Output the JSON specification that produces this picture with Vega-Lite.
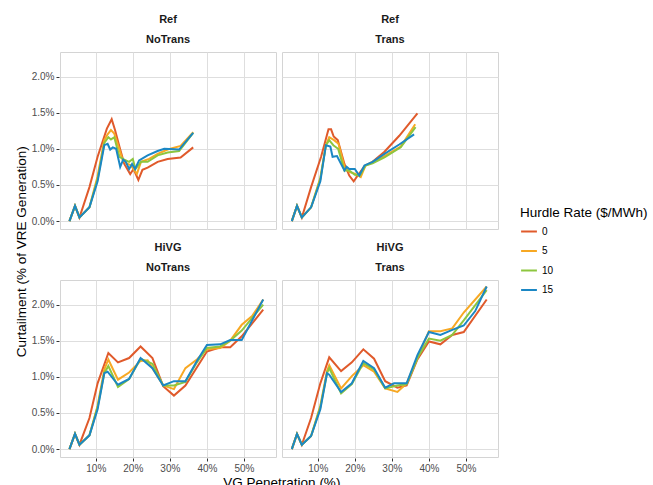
{
"$schema": "https://vega.github.io/schema/vega-lite/v6.json",
"padding": {"left": 14, "top": 14, "right": 0, "bottom": 0},
"title": {"text": "Curtailment (% of VRE Generation)", "orient": "left", "anchor": "middle", "fontSize": 13.5, "fontWeight": "normal", "color": "#000000", "font": "Liberation Sans", "offset": 3},
"config": {
  "font": "Liberation Sans",
  "view": {"stroke": "#d4d4d4", "strokeWidth": 1},
  "axis": {"grid": true, "gridColor": "#dedede", "gridWidth": 1, "domain": false, "tickColor": "#333333", "tickSize": 3, "labelColor": "#4d4d4d", "labelFontSize": 10, "labelFont": "Liberation Sans", "titleFont": "Liberation Sans", "titleFontSize": 13.5, "titleFontWeight": "normal", "titleColor": "#000000"},
  "header": {"labelFont": "Liberation Sans", "labelFontWeight": "bold", "labelFontSize": 11, "labelColor": "#1a1a1a", "labelLineHeight": 20, "labelPadding": 6},
  "legend": {"titleFont": "Liberation Sans", "titleFontSize": 13.5, "titleFontWeight": "normal", "titleColor": "#000000", "labelFont": "Liberation Sans", "labelFontSize": 10, "labelColor": "#000000"},
  "title": {"font": "Liberation Sans", "fontWeight": "normal", "fontSize": 13.5, "color": "#000000"}
},
"data": {"values": [
{"p":"Ref|NoTrans","r":0,"x":2.9,"y":0},{"p":"Ref|NoTrans","r":0,"x":4.4,"y":0.21},{"p":"Ref|NoTrans","r":0,"x":5.6,"y":0.05},{"p":"Ref|NoTrans","r":0,"x":8.3,"y":0.47},{"p":"Ref|NoTrans","r":0,"x":10.5,"y":0.89},{"p":"Ref|NoTrans","r":0,"x":13.0,"y":1.28},{"p":"Ref|NoTrans","r":0,"x":14.3,"y":1.41},{"p":"Ref|NoTrans","r":0,"x":15.2,"y":1.26},{"p":"Ref|NoTrans","r":0,"x":16.4,"y":1.03},{"p":"Ref|NoTrans","r":0,"x":17.7,"y":0.79},{"p":"Ref|NoTrans","r":0,"x":19.3,"y":0.65},{"p":"Ref|NoTrans","r":0,"x":20.2,"y":0.72},{"p":"Ref|NoTrans","r":0,"x":21.5,"y":0.57},{"p":"Ref|NoTrans","r":0,"x":22.6,"y":0.71},{"p":"Ref|NoTrans","r":0,"x":24.0,"y":0.74},{"p":"Ref|NoTrans","r":0,"x":26.7,"y":0.82},{"p":"Ref|NoTrans","r":0,"x":29.4,"y":0.86},{"p":"Ref|NoTrans","r":0,"x":32.9,"y":0.88},{"p":"Ref|NoTrans","r":0,"x":36.3,"y":1.02},
{"p":"Ref|NoTrans","r":5,"x":2.9,"y":0},{"p":"Ref|NoTrans","r":5,"x":4.4,"y":0.21},{"p":"Ref|NoTrans","r":5,"x":5.6,"y":0.05},{"p":"Ref|NoTrans","r":5,"x":8.3,"y":0.19},{"p":"Ref|NoTrans","r":5,"x":10.5,"y":0.62},{"p":"Ref|NoTrans","r":5,"x":12.3,"y":1.12},{"p":"Ref|NoTrans","r":5,"x":13.2,"y":1.2},{"p":"Ref|NoTrans","r":5,"x":14.1,"y":1.26},{"p":"Ref|NoTrans","r":5,"x":15.0,"y":1.21},{"p":"Ref|NoTrans","r":5,"x":15.9,"y":1.07},{"p":"Ref|NoTrans","r":5,"x":17.3,"y":0.84},{"p":"Ref|NoTrans","r":5,"x":18.6,"y":0.79},{"p":"Ref|NoTrans","r":5,"x":19.5,"y":0.77},{"p":"Ref|NoTrans","r":5,"x":21.1,"y":0.65},{"p":"Ref|NoTrans","r":5,"x":22.2,"y":0.82},{"p":"Ref|NoTrans","r":5,"x":24.4,"y":0.86},{"p":"Ref|NoTrans","r":5,"x":26.7,"y":0.93},{"p":"Ref|NoTrans","r":5,"x":29.4,"y":0.99},{"p":"Ref|NoTrans","r":5,"x":32.9,"y":1.04},{"p":"Ref|NoTrans","r":5,"x":36.3,"y":1.23},
{"p":"Ref|NoTrans","r":10,"x":2.9,"y":0},{"p":"Ref|NoTrans","r":10,"x":4.4,"y":0.21},{"p":"Ref|NoTrans","r":10,"x":5.6,"y":0.05},{"p":"Ref|NoTrans","r":10,"x":8.3,"y":0.19},{"p":"Ref|NoTrans","r":10,"x":10.5,"y":0.58},{"p":"Ref|NoTrans","r":10,"x":12.3,"y":1.08},{"p":"Ref|NoTrans","r":10,"x":13.4,"y":1.16},{"p":"Ref|NoTrans","r":10,"x":14.1,"y":1.13},{"p":"Ref|NoTrans","r":10,"x":15.0,"y":1.16},{"p":"Ref|NoTrans","r":10,"x":16.4,"y":0.89},{"p":"Ref|NoTrans","r":10,"x":17.7,"y":0.85},{"p":"Ref|NoTrans","r":10,"x":19.0,"y":0.82},{"p":"Ref|NoTrans","r":10,"x":20.0,"y":0.86},{"p":"Ref|NoTrans","r":10,"x":20.7,"y":0.72},{"p":"Ref|NoTrans","r":10,"x":22.2,"y":0.82},{"p":"Ref|NoTrans","r":10,"x":24.0,"y":0.82},{"p":"Ref|NoTrans","r":10,"x":26.7,"y":0.91},{"p":"Ref|NoTrans","r":10,"x":29.4,"y":0.95},{"p":"Ref|NoTrans","r":10,"x":32.5,"y":0.97},{"p":"Ref|NoTrans","r":10,"x":36.3,"y":1.22},
{"p":"Ref|NoTrans","r":15,"x":2.9,"y":0},{"p":"Ref|NoTrans","r":15,"x":4.4,"y":0.21},{"p":"Ref|NoTrans","r":15,"x":5.6,"y":0.05},{"p":"Ref|NoTrans","r":15,"x":8.3,"y":0.19},{"p":"Ref|NoTrans","r":15,"x":10.5,"y":0.55},{"p":"Ref|NoTrans","r":15,"x":12.3,"y":1.05},{"p":"Ref|NoTrans","r":15,"x":13.2,"y":1.07},{"p":"Ref|NoTrans","r":15,"x":13.9,"y":0.99},{"p":"Ref|NoTrans","r":15,"x":14.6,"y":1.02},{"p":"Ref|NoTrans","r":15,"x":15.5,"y":1.0},{"p":"Ref|NoTrans","r":15,"x":16.6,"y":0.75},{"p":"Ref|NoTrans","r":15,"x":17.4,"y":0.85},{"p":"Ref|NoTrans","r":15,"x":18.1,"y":0.82},{"p":"Ref|NoTrans","r":15,"x":19.0,"y":0.72},{"p":"Ref|NoTrans","r":15,"x":19.8,"y":0.79},{"p":"Ref|NoTrans","r":15,"x":20.6,"y":0.72},{"p":"Ref|NoTrans","r":15,"x":21.7,"y":0.84},{"p":"Ref|NoTrans","r":15,"x":24.0,"y":0.91},{"p":"Ref|NoTrans","r":15,"x":26.7,"y":0.97},{"p":"Ref|NoTrans","r":15,"x":28.5,"y":1.0},{"p":"Ref|NoTrans","r":15,"x":32.5,"y":0.99},{"p":"Ref|NoTrans","r":15,"x":36.3,"y":1.22},
{"p":"Ref|Trans","r":0,"x":3.0,"y":0},{"p":"Ref|Trans","r":0,"x":4.4,"y":0.21},{"p":"Ref|Trans","r":0,"x":5.7,"y":0.05},{"p":"Ref|Trans","r":0,"x":8.2,"y":0.47},{"p":"Ref|Trans","r":0,"x":10.9,"y":0.89},{"p":"Ref|Trans","r":0,"x":12.9,"y":1.27},{"p":"Ref|Trans","r":0,"x":13.6,"y":1.27},{"p":"Ref|Trans","r":0,"x":14.3,"y":1.17},{"p":"Ref|Trans","r":0,"x":15.4,"y":1.12},{"p":"Ref|Trans","r":0,"x":17.2,"y":0.79},{"p":"Ref|Trans","r":0,"x":18.5,"y":0.63},{"p":"Ref|Trans","r":0,"x":19.7,"y":0.55},{"p":"Ref|Trans","r":0,"x":20.8,"y":0.63},{"p":"Ref|Trans","r":0,"x":22.6,"y":0.76},{"p":"Ref|Trans","r":0,"x":24.8,"y":0.82},{"p":"Ref|Trans","r":0,"x":28.0,"y":0.96},{"p":"Ref|Trans","r":0,"x":32.0,"y":1.18},{"p":"Ref|Trans","r":0,"x":36.9,"y":1.49},
{"p":"Ref|Trans","r":5,"x":3.0,"y":0},{"p":"Ref|Trans","r":5,"x":4.4,"y":0.21},{"p":"Ref|Trans","r":5,"x":5.7,"y":0.05},{"p":"Ref|Trans","r":5,"x":8.2,"y":0.19},{"p":"Ref|Trans","r":5,"x":10.7,"y":0.6},{"p":"Ref|Trans","r":5,"x":12.2,"y":1.05},{"p":"Ref|Trans","r":5,"x":13.1,"y":1.16},{"p":"Ref|Trans","r":5,"x":14.4,"y":1.12},{"p":"Ref|Trans","r":5,"x":15.6,"y":1.07},{"p":"Ref|Trans","r":5,"x":17.2,"y":0.75},{"p":"Ref|Trans","r":5,"x":18.5,"y":0.68},{"p":"Ref|Trans","r":5,"x":20.3,"y":0.65},{"p":"Ref|Trans","r":5,"x":21.6,"y":0.61},{"p":"Ref|Trans","r":5,"x":22.9,"y":0.77},{"p":"Ref|Trans","r":5,"x":24.8,"y":0.82},{"p":"Ref|Trans","r":5,"x":28.0,"y":0.9},{"p":"Ref|Trans","r":5,"x":32.4,"y":1.03},{"p":"Ref|Trans","r":5,"x":36.3,"y":1.34},
{"p":"Ref|Trans","r":10,"x":3.0,"y":0},{"p":"Ref|Trans","r":10,"x":4.4,"y":0.21},{"p":"Ref|Trans","r":10,"x":5.7,"y":0.05},{"p":"Ref|Trans","r":10,"x":8.2,"y":0.19},{"p":"Ref|Trans","r":10,"x":10.7,"y":0.58},{"p":"Ref|Trans","r":10,"x":12.2,"y":1.05},{"p":"Ref|Trans","r":10,"x":13.1,"y":1.12},{"p":"Ref|Trans","r":10,"x":14.2,"y":1.05},{"p":"Ref|Trans","r":10,"x":15.5,"y":1.0},{"p":"Ref|Trans","r":10,"x":17.2,"y":0.7},{"p":"Ref|Trans","r":10,"x":18.5,"y":0.7},{"p":"Ref|Trans","r":10,"x":20.0,"y":0.64},{"p":"Ref|Trans","r":10,"x":21.4,"y":0.63},{"p":"Ref|Trans","r":10,"x":22.9,"y":0.77},{"p":"Ref|Trans","r":10,"x":24.8,"y":0.8},{"p":"Ref|Trans","r":10,"x":28.0,"y":0.88},{"p":"Ref|Trans","r":10,"x":32.4,"y":1.02},{"p":"Ref|Trans","r":10,"x":36.4,"y":1.3},
{"p":"Ref|Trans","r":15,"x":3.0,"y":0},{"p":"Ref|Trans","r":15,"x":4.4,"y":0.21},{"p":"Ref|Trans","r":15,"x":5.7,"y":0.05},{"p":"Ref|Trans","r":15,"x":8.2,"y":0.19},{"p":"Ref|Trans","r":15,"x":10.7,"y":0.55},{"p":"Ref|Trans","r":15,"x":12.2,"y":1.05},{"p":"Ref|Trans","r":15,"x":13.4,"y":1.03},{"p":"Ref|Trans","r":15,"x":14.0,"y":0.89},{"p":"Ref|Trans","r":15,"x":15.2,"y":0.9},{"p":"Ref|Trans","r":15,"x":17.2,"y":0.7},{"p":"Ref|Trans","r":15,"x":17.8,"y":0.75},{"p":"Ref|Trans","r":15,"x":18.5,"y":0.72},{"p":"Ref|Trans","r":15,"x":20.0,"y":0.72},{"p":"Ref|Trans","r":15,"x":21.2,"y":0.63},{"p":"Ref|Trans","r":15,"x":22.6,"y":0.77},{"p":"Ref|Trans","r":15,"x":24.8,"y":0.82},{"p":"Ref|Trans","r":15,"x":28.0,"y":0.93},{"p":"Ref|Trans","r":15,"x":32.0,"y":1.06},{"p":"Ref|Trans","r":15,"x":36.0,"y":1.2},
{"p":"HiVG|NoTrans","r":0,"x":2.9,"y":0},{"p":"HiVG|NoTrans","r":0,"x":4.4,"y":0.21},{"p":"HiVG|NoTrans","r":0,"x":5.6,"y":0.06},{"p":"HiVG|NoTrans","r":0,"x":8.3,"y":0.43},{"p":"HiVG|NoTrans","r":0,"x":10.5,"y":0.91},{"p":"HiVG|NoTrans","r":0,"x":13.4,"y":1.33},{"p":"HiVG|NoTrans","r":0,"x":16.0,"y":1.2},{"p":"HiVG|NoTrans","r":0,"x":19.0,"y":1.26},{"p":"HiVG|NoTrans","r":0,"x":22.1,"y":1.42},{"p":"HiVG|NoTrans","r":0,"x":25.3,"y":1.26},{"p":"HiVG|NoTrans","r":0,"x":28.2,"y":0.87},{"p":"HiVG|NoTrans","r":0,"x":31.1,"y":0.74},{"p":"HiVG|NoTrans","r":0,"x":34.2,"y":0.88},{"p":"HiVG|NoTrans","r":0,"x":40.0,"y":1.35},{"p":"HiVG|NoTrans","r":0,"x":43.6,"y":1.41},{"p":"HiVG|NoTrans","r":0,"x":46.3,"y":1.41},{"p":"HiVG|NoTrans","r":0,"x":49.4,"y":1.56},{"p":"HiVG|NoTrans","r":0,"x":55.2,"y":1.93},
{"p":"HiVG|NoTrans","r":5,"x":2.9,"y":0},{"p":"HiVG|NoTrans","r":5,"x":4.4,"y":0.21},{"p":"HiVG|NoTrans","r":5,"x":5.6,"y":0.06},{"p":"HiVG|NoTrans","r":5,"x":8.3,"y":0.19},{"p":"HiVG|NoTrans","r":5,"x":10.5,"y":0.6},{"p":"HiVG|NoTrans","r":5,"x":12.3,"y":1.1},{"p":"HiVG|NoTrans","r":5,"x":13.4,"y":1.24},{"p":"HiVG|NoTrans","r":5,"x":16.0,"y":0.96},{"p":"HiVG|NoTrans","r":5,"x":19.0,"y":1.06},{"p":"HiVG|NoTrans","r":5,"x":22.1,"y":1.22},{"p":"HiVG|NoTrans","r":5,"x":24.0,"y":1.23},{"p":"HiVG|NoTrans","r":5,"x":25.3,"y":1.12},{"p":"HiVG|NoTrans","r":5,"x":28.2,"y":0.88},{"p":"HiVG|NoTrans","r":5,"x":31.1,"y":0.83},{"p":"HiVG|NoTrans","r":5,"x":34.2,"y":1.12},{"p":"HiVG|NoTrans","r":5,"x":37.3,"y":1.24},{"p":"HiVG|NoTrans","r":5,"x":40.0,"y":1.38},{"p":"HiVG|NoTrans","r":5,"x":43.6,"y":1.4},{"p":"HiVG|NoTrans","r":5,"x":46.3,"y":1.5},{"p":"HiVG|NoTrans","r":5,"x":49.4,"y":1.72},{"p":"HiVG|NoTrans","r":5,"x":52.2,"y":1.84},{"p":"HiVG|NoTrans","r":5,"x":55.2,"y":2.07},
{"p":"HiVG|NoTrans","r":10,"x":2.9,"y":0},{"p":"HiVG|NoTrans","r":10,"x":4.4,"y":0.21},{"p":"HiVG|NoTrans","r":10,"x":5.6,"y":0.06},{"p":"HiVG|NoTrans","r":10,"x":8.3,"y":0.19},{"p":"HiVG|NoTrans","r":10,"x":10.5,"y":0.58},{"p":"HiVG|NoTrans","r":10,"x":12.3,"y":1.05},{"p":"HiVG|NoTrans","r":10,"x":13.4,"y":1.15},{"p":"HiVG|NoTrans","r":10,"x":16.0,"y":0.86},{"p":"HiVG|NoTrans","r":10,"x":19.0,"y":0.97},{"p":"HiVG|NoTrans","r":10,"x":22.1,"y":1.25},{"p":"HiVG|NoTrans","r":10,"x":25.3,"y":1.18},{"p":"HiVG|NoTrans","r":10,"x":28.2,"y":0.88},{"p":"HiVG|NoTrans","r":10,"x":31.1,"y":0.88},{"p":"HiVG|NoTrans","r":10,"x":34.2,"y":0.93},{"p":"HiVG|NoTrans","r":10,"x":37.3,"y":1.2},{"p":"HiVG|NoTrans","r":10,"x":40.0,"y":1.4},{"p":"HiVG|NoTrans","r":10,"x":43.6,"y":1.42},{"p":"HiVG|NoTrans","r":10,"x":46.3,"y":1.5},{"p":"HiVG|NoTrans","r":10,"x":49.4,"y":1.64},{"p":"HiVG|NoTrans","r":10,"x":55.2,"y":2.0},
{"p":"HiVG|NoTrans","r":15,"x":2.9,"y":0},{"p":"HiVG|NoTrans","r":15,"x":4.4,"y":0.21},{"p":"HiVG|NoTrans","r":15,"x":5.6,"y":0.06},{"p":"HiVG|NoTrans","r":15,"x":8.3,"y":0.19},{"p":"HiVG|NoTrans","r":15,"x":10.5,"y":0.55},{"p":"HiVG|NoTrans","r":15,"x":12.3,"y":1.05},{"p":"HiVG|NoTrans","r":15,"x":13.2,"y":1.07},{"p":"HiVG|NoTrans","r":15,"x":16.0,"y":0.89},{"p":"HiVG|NoTrans","r":15,"x":19.0,"y":0.97},{"p":"HiVG|NoTrans","r":15,"x":22.1,"y":1.26},{"p":"HiVG|NoTrans","r":15,"x":25.3,"y":1.12},{"p":"HiVG|NoTrans","r":15,"x":28.2,"y":0.88},{"p":"HiVG|NoTrans","r":15,"x":31.1,"y":0.94},{"p":"HiVG|NoTrans","r":15,"x":34.2,"y":0.94},{"p":"HiVG|NoTrans","r":15,"x":37.3,"y":1.22},{"p":"HiVG|NoTrans","r":15,"x":40.0,"y":1.44},{"p":"HiVG|NoTrans","r":15,"x":43.6,"y":1.45},{"p":"HiVG|NoTrans","r":15,"x":46.3,"y":1.51},{"p":"HiVG|NoTrans","r":15,"x":49.4,"y":1.51},{"p":"HiVG|NoTrans","r":15,"x":55.2,"y":2.07},
{"p":"HiVG|Trans","r":0,"x":3.0,"y":0},{"p":"HiVG|Trans","r":0,"x":4.4,"y":0.21},{"p":"HiVG|Trans","r":0,"x":5.7,"y":0.06},{"p":"HiVG|Trans","r":0,"x":8.2,"y":0.43},{"p":"HiVG|Trans","r":0,"x":10.7,"y":0.91},{"p":"HiVG|Trans","r":0,"x":13.1,"y":1.27},{"p":"HiVG|Trans","r":0,"x":16.3,"y":1.08},{"p":"HiVG|Trans","r":0,"x":19.2,"y":1.2},{"p":"HiVG|Trans","r":0,"x":22.3,"y":1.38},{"p":"HiVG|Trans","r":0,"x":25.2,"y":1.25},{"p":"HiVG|Trans","r":0,"x":28.2,"y":0.94},{"p":"HiVG|Trans","r":0,"x":31.5,"y":0.85},{"p":"HiVG|Trans","r":0,"x":34.0,"y":0.88},{"p":"HiVG|Trans","r":0,"x":36.9,"y":1.24},{"p":"HiVG|Trans","r":0,"x":40.0,"y":1.49},{"p":"HiVG|Trans","r":0,"x":43.1,"y":1.45},{"p":"HiVG|Trans","r":0,"x":46.3,"y":1.58},{"p":"HiVG|Trans","r":0,"x":49.4,"y":1.62},{"p":"HiVG|Trans","r":0,"x":55.6,"y":2.07},
{"p":"HiVG|Trans","r":5,"x":3.0,"y":0},{"p":"HiVG|Trans","r":5,"x":4.4,"y":0.21},{"p":"HiVG|Trans","r":5,"x":5.7,"y":0.06},{"p":"HiVG|Trans","r":5,"x":8.2,"y":0.18},{"p":"HiVG|Trans","r":5,"x":10.7,"y":0.6},{"p":"HiVG|Trans","r":5,"x":12.5,"y":1.08},{"p":"HiVG|Trans","r":5,"x":13.1,"y":1.16},{"p":"HiVG|Trans","r":5,"x":16.3,"y":0.84},{"p":"HiVG|Trans","r":5,"x":19.2,"y":1.01},{"p":"HiVG|Trans","r":5,"x":22.3,"y":1.16},{"p":"HiVG|Trans","r":5,"x":25.2,"y":1.07},{"p":"HiVG|Trans","r":5,"x":28.2,"y":0.84},{"p":"HiVG|Trans","r":5,"x":31.5,"y":0.79},{"p":"HiVG|Trans","r":5,"x":34.0,"y":0.91},{"p":"HiVG|Trans","r":5,"x":36.9,"y":1.26},{"p":"HiVG|Trans","r":5,"x":40.0,"y":1.63},{"p":"HiVG|Trans","r":5,"x":43.1,"y":1.63},{"p":"HiVG|Trans","r":5,"x":46.3,"y":1.67},{"p":"HiVG|Trans","r":5,"x":49.4,"y":1.89},{"p":"HiVG|Trans","r":5,"x":55.6,"y":2.25},
{"p":"HiVG|Trans","r":10,"x":3.0,"y":0},{"p":"HiVG|Trans","r":10,"x":4.4,"y":0.21},{"p":"HiVG|Trans","r":10,"x":5.7,"y":0.06},{"p":"HiVG|Trans","r":10,"x":8.2,"y":0.18},{"p":"HiVG|Trans","r":10,"x":10.7,"y":0.58},{"p":"HiVG|Trans","r":10,"x":12.5,"y":1.05},{"p":"HiVG|Trans","r":10,"x":13.1,"y":1.12},{"p":"HiVG|Trans","r":10,"x":16.3,"y":0.77},{"p":"HiVG|Trans","r":10,"x":19.2,"y":0.9},{"p":"HiVG|Trans","r":10,"x":22.3,"y":1.19},{"p":"HiVG|Trans","r":10,"x":25.2,"y":1.1},{"p":"HiVG|Trans","r":10,"x":28.2,"y":0.84},{"p":"HiVG|Trans","r":10,"x":31.5,"y":0.88},{"p":"HiVG|Trans","r":10,"x":34.0,"y":0.9},{"p":"HiVG|Trans","r":10,"x":36.9,"y":1.26},{"p":"HiVG|Trans","r":10,"x":40.0,"y":1.53},{"p":"HiVG|Trans","r":10,"x":43.1,"y":1.5},{"p":"HiVG|Trans","r":10,"x":46.3,"y":1.58},{"p":"HiVG|Trans","r":10,"x":49.4,"y":1.78},{"p":"HiVG|Trans","r":10,"x":55.6,"y":2.2},
{"p":"HiVG|Trans","r":15,"x":3.0,"y":0},{"p":"HiVG|Trans","r":15,"x":4.4,"y":0.21},{"p":"HiVG|Trans","r":15,"x":5.7,"y":0.06},{"p":"HiVG|Trans","r":15,"x":8.2,"y":0.18},{"p":"HiVG|Trans","r":15,"x":10.7,"y":0.55},{"p":"HiVG|Trans","r":15,"x":12.5,"y":1.05},{"p":"HiVG|Trans","r":15,"x":13.1,"y":1.03},{"p":"HiVG|Trans","r":15,"x":16.3,"y":0.79},{"p":"HiVG|Trans","r":15,"x":19.2,"y":0.91},{"p":"HiVG|Trans","r":15,"x":22.3,"y":1.22},{"p":"HiVG|Trans","r":15,"x":25.2,"y":1.12},{"p":"HiVG|Trans","r":15,"x":28.2,"y":0.85},{"p":"HiVG|Trans","r":15,"x":30.6,"y":0.91},{"p":"HiVG|Trans","r":15,"x":34.0,"y":0.91},{"p":"HiVG|Trans","r":15,"x":36.9,"y":1.3},{"p":"HiVG|Trans","r":15,"x":40.0,"y":1.62},{"p":"HiVG|Trans","r":15,"x":43.1,"y":1.58},{"p":"HiVG|Trans","r":15,"x":46.3,"y":1.65},{"p":"HiVG|Trans","r":15,"x":49.4,"y":1.71},{"p":"HiVG|Trans","r":15,"x":52.5,"y":1.91},{"p":"HiVG|Trans","r":15,"x":55.6,"y":2.25}
]},
"spacing": 12,
"resolve": {"scale": {"color": "shared", "x": "shared", "y": "shared"}, "legend": {"color": "shared"}},
"vconcat": [
{
  "transform": [{"filter": "split(datum.p, '|')[0] == 'Ref'"}],
  "facet": {"column": {"field": "p", "type": "nominal", "sort": ["Ref|NoTrans", "Ref|Trans"], "header": {"title": null, "labelExpr": "split(datum.value, '|')"}}},
  "spacing": {"column": 4},
  "spec": {
    "width": 216,
    "height": 177,
    "mark": {"type": "line", "strokeWidth": 2, "clip": true},
    "encoding": {
      "x": {"field": "x", "type": "quantitative", "scale": {"domain": [0.35, 58.65], "nice": false, "zero": false}, "axis": {"values": [10, 20, 30, 40, 50], "labels": false, "ticks": false, "title": null}},
      "y": {"field": "y", "type": "quantitative", "scale": {"domain": [-0.11, 2.34], "nice": false, "zero": false}, "axis": {"values": [0, 0.5, 1, 1.5, 2], "labelExpr": "format(datum.value, '.1f') + '%'", "title": null, "labelPadding": 2}},
      "color": {"field": "r", "type": "ordinal", "title": "Hurdle Rate ($/MWh)", "scale": {"domain": [0, 5, 10, 15], "range": ["#E05A2B", "#F7A823", "#8DC63F", "#1B87C4"]}, "legend": {"orient": "none", "legendX": 460, "legendY": 154, "symbolType": "stroke", "symbolStrokeWidth": 2, "symbolSize": 250, "rowPadding": 5.5, "titlePadding": 3}}
    }
  }
},
{
  "transform": [{"filter": "split(datum.p, '|')[0] == 'HiVG'"}],
  "title": {"text": "VG Penetration (%)", "orient": "bottom", "anchor": "middle", "offset": 3, "dx": 17},
  "facet": {"column": {"field": "p", "type": "nominal", "sort": ["HiVG|NoTrans", "HiVG|Trans"], "header": {"title": null, "labelExpr": "split(datum.value, '|')"}}},
  "spacing": {"column": 4},
  "spec": {
    "width": 216,
    "height": 177,
    "mark": {"type": "line", "strokeWidth": 2, "clip": true},
    "encoding": {
      "x": {"field": "x", "type": "quantitative", "scale": {"domain": [0.35, 58.65], "nice": false, "zero": false}, "axis": {"values": [10, 20, 30, 40, 50], "labelExpr": "datum.value + '%'", "title": null, "labelPadding": 2}},
      "y": {"field": "y", "type": "quantitative", "scale": {"domain": [-0.11, 2.34], "nice": false, "zero": false}, "axis": {"values": [0, 0.5, 1, 1.5, 2], "labelExpr": "format(datum.value, '.1f') + '%'", "title": null, "labelPadding": 2}},
      "color": {"field": "r", "type": "ordinal", "title": "Hurdle Rate ($/MWh)", "scale": {"domain": [0, 5, 10, 15], "range": ["#E05A2B", "#F7A823", "#8DC63F", "#1B87C4"]}, "legend": {"orient": "none", "legendX": 460, "legendY": 154, "symbolType": "stroke", "symbolStrokeWidth": 2, "symbolSize": 250, "rowPadding": 5.5, "titlePadding": 3}}
    }
  }
}
]
}
